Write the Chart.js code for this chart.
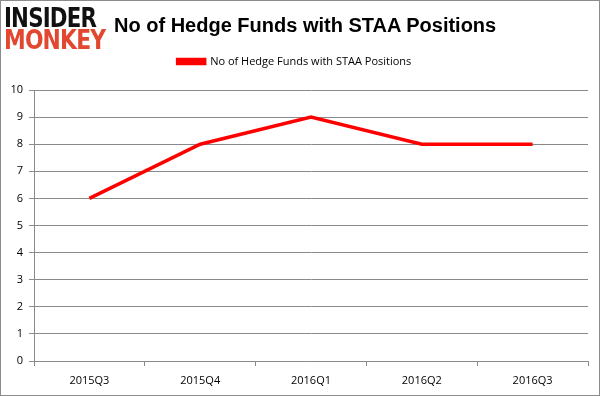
<!DOCTYPE html>
<html>
<head>
<meta charset="utf-8">
<script src="https://cdn.jsdelivr.net/npm/chart.js@4"></script>
<style>
    body { margin: 0; background: #fff; }
    #wrap { position: relative; width: 598px; height: 394px; border: 1px solid #8c8c8c; background: #fff; }
    #chart { position: absolute; left: 0; top: 0; }
    .logo { position: absolute; left: 3px; font-family: "DejaVu Sans", sans-serif; font-weight: bold; font-size: 26px; line-height: 26px; transform-origin: left top; letter-spacing: -1px; }
    #title { position: absolute; left: 113px; top: 13px; font-family: "Liberation Sans", Arial, sans-serif; font-weight: bold; font-size: 20px; color: #000; white-space: nowrap; }
</style>
</head>
<body>
<div id="wrap">
    <canvas id="chart" width="598" height="394"></canvas>
    <div class="logo" style="top:4px;color:#111;transform:scaleX(0.82);">INSIDER</div>
    <div class="logo" style="top:26px;color:#e2472f;transform:scaleX(0.84);">MONKEY</div>
    <div id="title">No of Hedge Funds with STAA Positions</div>
</div>
<script>
// 資料
const quarters = ['2015Q3', '2015Q4', '2016Q1', '2016Q2', '2016Q3'];
const fundCounts = [6, 8, 9, 8, 8];
const seriesName = 'No of Hedge Funds with STAA Positions';

const tickFont = { family: '"Open Sans", "Liberation Sans", sans-serif', size: 11 };
const gridColor = '#8a8a8a';

// 圖例下方留白
const legendGap = {
    id: 'legendGap',
    beforeInit(chart) {
        const fit = chart.legend.fit;
        chart.legend.fit = function () {
            fit.bind(chart.legend)();
            this.height += 13;
        };
    }
};

const ctx = document.getElementById('chart').getContext('2d');
new Chart(ctx, {
    type: 'line',
    data: {
        labels: quarters,
        datasets: [{
            label: seriesName,
            data: fundCounts,
            borderColor: '#ff0000',
            backgroundColor: '#ff0000',
            borderWidth: 3.5,
            pointRadius: 0,
            tension: 0
        }]
    },
    options: {
        responsive: false,
        animation: false,
        layout: { padding: { top: 45, right: 11, left: 0, bottom: 0 } },
        plugins: {
            legend: {
                position: 'top',
                labels: {
                    boxWidth: 27,
                    boxHeight: 4,
                    padding: 10,
                    color: '#000',
                    font: tickFont
                }
            },
            tooltip: { enabled: false }
        },
        scales: {
            x: {
                offset: true,
                grid: { offset: true, drawOnChartArea: false, tickLength: 5, color: gridColor },
                border: { color: gridColor },
                ticks: { color: '#000', font: tickFont, padding: 8 },
                afterFit(scale) { scale.height = 34; }
            },
            y: {
                min: 0,
                max: 10,
                ticks: { stepSize: 1, color: '#000', font: tickFont, padding: 6 },
                grid: { color: gridColor, tickLength: 5 },
                border: { color: gridColor },
                afterFit(scale) { scale.width = 33; }
            }
        }
    },
    plugins: [legendGap]
});
</script>
</body>
</html>
